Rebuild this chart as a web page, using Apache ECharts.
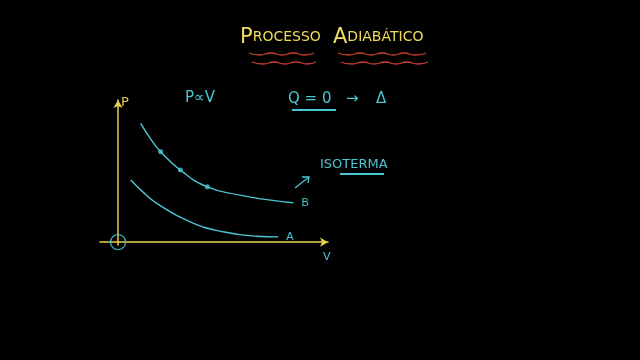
<!DOCTYPE html>
<html><head><meta charset="utf-8">
<script src="https://cdn.jsdelivr.net/npm/echarts@6/dist/echarts.min.js"></script>
<style>html,body{margin:0;background:#000}#c{width:640px;height:360px}</style>
</head><body><div id="c"></div>
<script>
// curvas P x V
var curveB = [[10.7,83.6],[15.1,73.2],[20.1,63.6],[29.4,50.7],[42.1,38.9],[57.5,33.1],[68.4,30.3],[82.7,27.7]];
var curveA = [[6.0,43.7],[11.8,35.2],[18.3,27.3],[34.0,14.3],[49.5,7.3],[65.4,4.2],[75.5,3.7]];
var pontosB = [[20.1,63.6],[29.4,50.7],[42.1,38.9]];
var origem = [[0,0]];
var nomes = ['A','B'];

var ciano = '#4cc6d3';
var amarelo = '#e6cf4e';
var vermelho = '#c8402e';

function onda(x0,x1,y){
    var pts=[], k=0;
    for(var x=x0;x<x1;x+=11){ pts.push([x, y+(k%2?1:-1)]); k++; }
    pts.push([x1, y+(k%2?1:-1)]);
    return pts;
}
function titulo(x, g, p){
    return {type:'text',left:x,top:27,style:{
        text:'{g|'+g+'}{p|'+p+'}',
        rich:{g:{fontSize:21,fill:'#f0dc5a',fontFamily:'DejaVu Sans'},
              p:{fontSize:14,fill:'#f0dc5a',fontFamily:'DejaVu Sans'}}}};
}

var chart = echarts.init(document.getElementById('c'));
chart.setOption({
    backgroundColor:'#000',
    animation:false,
    grid:{left:100,width:228,top:100,height:145},
    xAxis:{type:'value',min:-8.5,max:99,
        axisLine:{onZero:true,symbol:['none','arrow'],symbolSize:[7,8],lineStyle:{color:amarelo,width:1.5}},
        axisTick:{show:false},axisLabel:{show:false},splitLine:{show:false}},
    yAxis:{type:'value',min:-2,max:100,
        axisLine:{onZero:true,symbol:['none','arrow'],symbolSize:[7,8],lineStyle:{color:amarelo,width:1.5}},
        axisTick:{show:false},axisLabel:{show:false},splitLine:{show:false}},
    series:[
        {name:nomes[1],type:'line',data:curveB,smooth:true,showSymbol:false,
            lineStyle:{color:ciano,width:1.4},
            endLabel:{show:true,formatter:'{a}',color:ciano,fontSize:11,distance:8}},
        {name:nomes[0],type:'line',data:curveA,smooth:true,showSymbol:false,
            lineStyle:{color:ciano,width:1.4},
            endLabel:{show:true,formatter:'{a}',color:ciano,fontSize:11,distance:8}},
        {type:'scatter',data:pontosB,symbolSize:5,itemStyle:{color:ciano}},
        {type:'scatter',data:origem,symbol:'circle',symbolSize:15,
            itemStyle:{color:'rgba(0,0,0,0)',borderColor:ciano,borderWidth:1.4}}
    ],
    graphic:[
        titulo(240,'P','ROCESSO'),
        titulo(333,'A','DIABÁTICO'),
        {type:'polyline',shape:{points:onda(249,314,54),smooth:0.6},style:{stroke:vermelho,lineWidth:1.3,fill:null}},
        {type:'polyline',shape:{points:onda(252,316,63),smooth:0.6},style:{stroke:vermelho,lineWidth:1.3,fill:null}},
        {type:'polyline',shape:{points:onda(338,426,54),smooth:0.6},style:{stroke:vermelho,lineWidth:1.3,fill:null}},
        {type:'polyline',shape:{points:onda(341,428,63),smooth:0.6},style:{stroke:vermelho,lineWidth:1.3,fill:null}},
        {type:'text',left:121,top:96,style:{text:'P',fill:amarelo,fontSize:13,fontFamily:'DejaVu Sans'}},
        {type:'text',left:323,top:252,style:{text:'V',fill:ciano,fontSize:11,fontFamily:'DejaVu Sans'}},
        {type:'text',left:185,top:91,style:{text:'P∝V',fill:ciano,fontSize:15,fontFamily:'DejaVu Sans'}},
        {type:'text',left:288,top:92,style:{text:'Q = 0',fill:ciano,fontSize:15,fontFamily:'DejaVu Sans'}},
        {type:'text',left:346,top:92,style:{text:'→',fill:ciano,fontSize:15,fontFamily:'DejaVu Sans'}},
        {type:'text',left:376,top:92,style:{text:'Δ',fill:ciano,fontSize:15,fontFamily:'DejaVu Sans'}},
        {type:'line',shape:{x1:292,y1:110,x2:336,y2:110},style:{stroke:ciano,lineWidth:2}},
        {type:'text',left:320,top:158,style:{text:'ISOTERMA',fill:ciano,fontSize:13,fontFamily:'DejaVu Sans'}},
        {type:'line',shape:{x1:340,y1:174,x2:384,y2:174},style:{stroke:ciano,lineWidth:2}},
        {type:'line',shape:{x1:295,y1:188,x2:309,y2:177},style:{stroke:ciano,lineWidth:1.3}},
        {type:'polyline',shape:{points:[[302,177],[309,177],[308,183]]},style:{stroke:ciano,lineWidth:1.3,fill:null}}
    ]
});
</script></body></html>
